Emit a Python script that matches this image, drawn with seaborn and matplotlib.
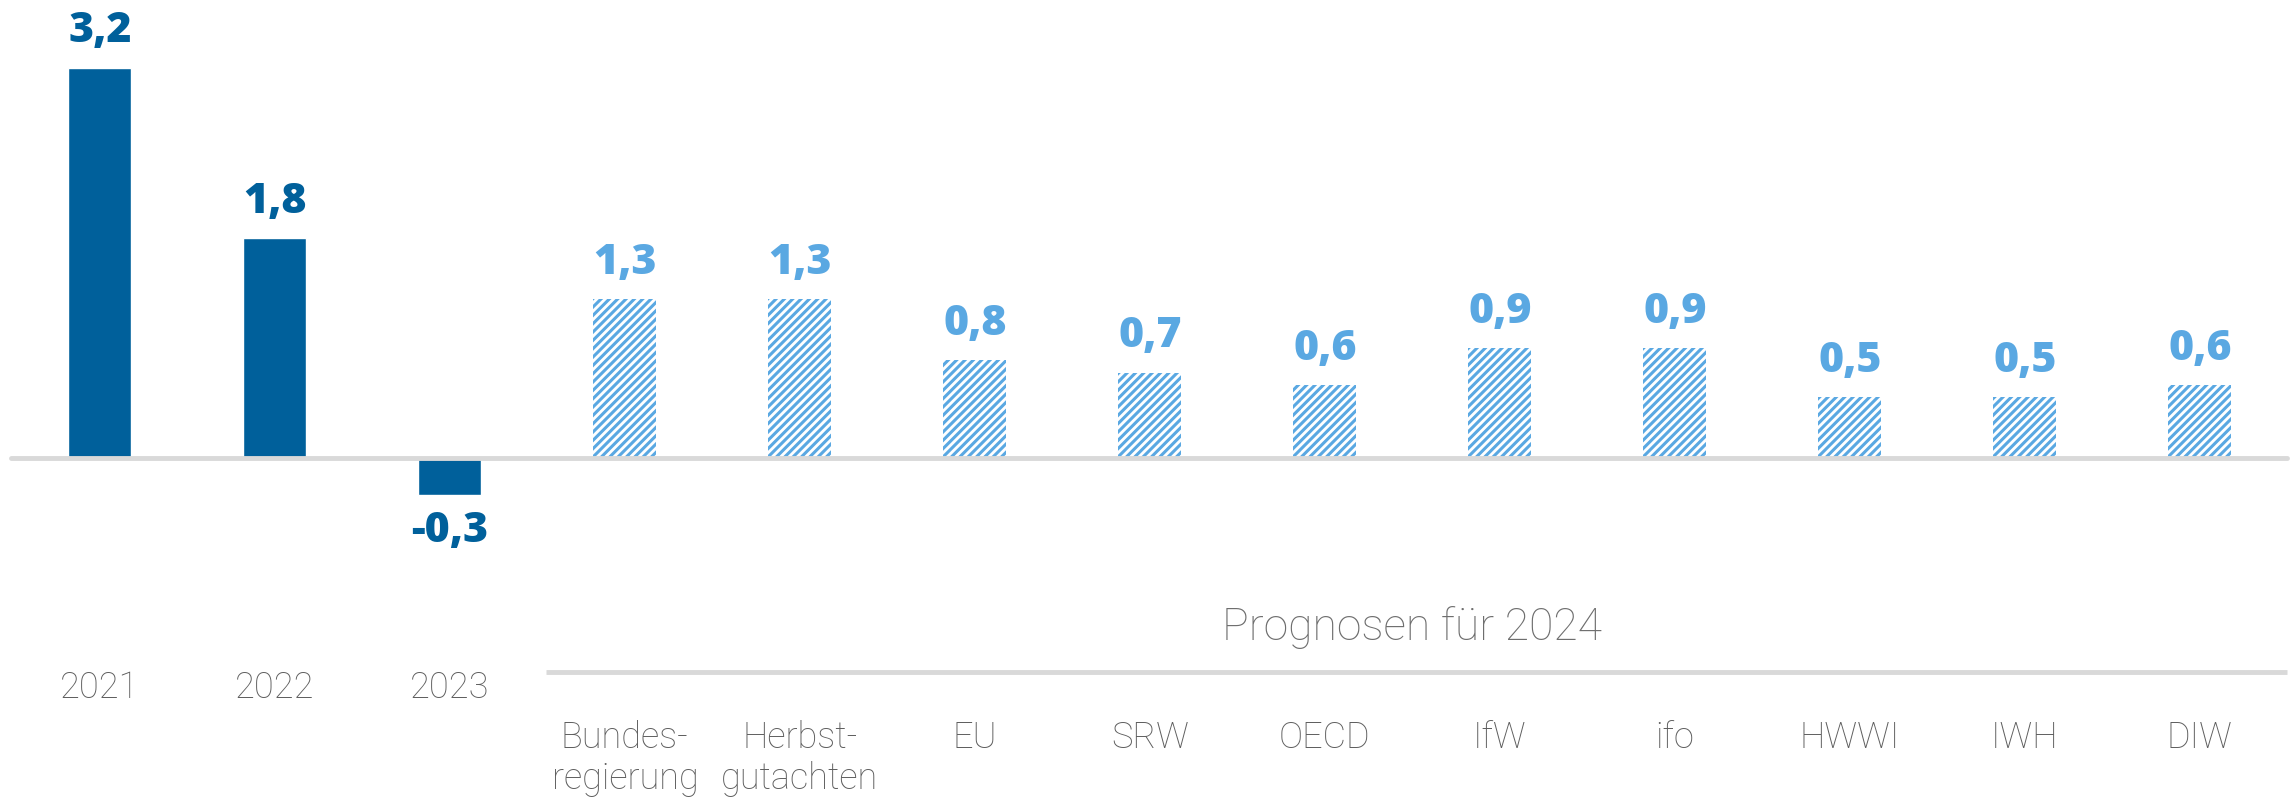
import pandas as pd
import seaborn as sns
import matplotlib.pyplot as plt

# data
categories = ['2021', '2022', '2023', 'Bundes-\nregierung', 'Herbst-\ngutachten', 'EU', 'SRW',
              'OECD', 'IfW', 'ifo', 'HWWI', 'IWH', 'DIW']
values = [3.2, 1.8, -0.3, 1.3, 1.3, 0.8, 0.7, 0.6, 0.9, 0.9, 0.5, 0.5, 0.6]
kinds = ['Ist'] * 3 + ['Prognose'] * 10
forecast_title = 'Prognosen für 2024'

DARK = '#00609b'
LIGHT = '#5aa8e2'
GREY_TXT = '#5e5e5e'
GREY_TITLE = '#6e6e6e'
GREY_LINE = '#d9d9d9'
LABEL_FONT = ['Roboto', 'DejaVu Sans']
VALUE_FONT = ['Open Sans', 'DejaVu Sans']

sns.set_theme(style='white')
plt.rcParams['hatch.linewidth'] = 2.2

df = pd.DataFrame({'label': categories, 'value': values, 'kind': kinds})

fig = plt.figure(figsize=(22.96, 7.99), dpi=100)
ax = fig.add_axes([0, 0, 1, 1])

sns.barplot(data=df, x='label', y='value', hue='kind', order=categories,
            palette={'Ist': DARK, 'Prognose': 'white'}, dodge=False, width=0.36,
            legend=False, saturation=1, ax=ax)

fmt = lambda v: f'{v:.1f}'.replace('.', ',')
for cont, col in zip(ax.containers, [DARK, LIGHT]):
    if col == LIGHT:
        for p in cont:
            p.set_hatch('////')
            p.set_edgecolor(LIGHT)
            p.set_linewidth(0)
    ax.bar_label(cont, fmt=fmt, padding=11, color=col, fontsize=31,
                 fontweight='heavy', family=VALUE_FONT)

# zero line and the bracket line under the forecast block
ax.axhline(0, xmin=0.005, xmax=0.996, color=GREY_LINE, lw=3.5, zorder=3)
ax.hlines(-1.754, 2.55, len(categories) - 0.5, color=GREY_LINE, lw=3.5)
ax.text(7.5, -1.39, forecast_title, ha='center', va='center', fontsize=32,
        color=GREY_TITLE, family=LABEL_FONT, fontweight='light')

for i, (lab, kind) in enumerate(zip(categories, kinds)):
    if kind == 'Ist':
        ax.text(i, -1.885, lab, ha='center', va='center', fontsize=26,
                color=GREY_TXT, family=LABEL_FONT, fontweight='light')
    else:
        ax.text(i, -2.15, lab, ha='center', va='top', fontsize=26,
                color=GREY_TXT, family=LABEL_FONT, fontweight='light',
                linespacing=1.15)

ax.set_xlim(-0.571, 12.549)
ax.set_ylim(-2.795, 3.754)
ax.axis('off')

fig.savefig('out.png', dpi=100)
